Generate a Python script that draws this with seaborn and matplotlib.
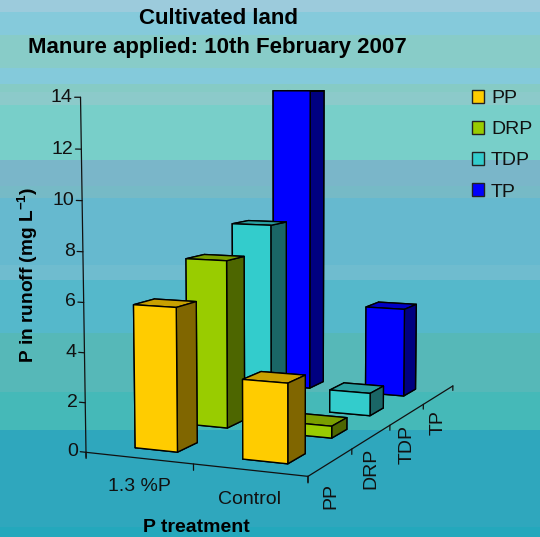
import numpy as np
import matplotlib
matplotlib.use("Agg")
import matplotlib.pyplot as plt
from matplotlib.patches import Patch
from mpl_toolkits.mplot3d import proj3d
import seaborn as sns

# dados
treatments = ["1.3 %P", "Control"]
series = ["PP", "DRP", "TDP", "TP"]
pp = [5.8, 3.15]
drp = [7.15, 0.5]
tdp = [8.25, 1.0]
tp = [14.2, 4.1]
z_ticks = [0, 2, 4, 6, 8, 10, 12, 14]

# cor da frente, topo e lateral de cada serie
front = ["#FFCC00", "#99CC00", "#33CCCC", "#0000FF"]
top = ["#C9A000", "#7A9F00", "#2A9FA0", "#0000C4"]
side = ["#806600", "#4D6600", "#1A6666", "#000080"]

# faixas do fundo (ate y em px, cor)
band_ends = [12, 35, 68, 84, 92, 105, 160, 186, 198, 265, 280, 333, 392, 430, 527, 537]
band_colors = ["#9CCBDC", "#85CADB", "#88CCC8", "#84CADB", "#86CBC5", "#8CCACA", "#78CFC9", "#7AB6C9",
               "#76BAC6", "#66B9CF", "#6FBCCF", "#55B8CB", "#56B8B8", "#45B9B8", "#2FA7BD", "#24A8BC"]

sns.set_theme(style="white")
plt.rcParams["font.family"] = ["Liberation Sans", "DejaVu Sans"]
plt.rcParams["mathtext.fontset"] = "custom"
plt.rcParams["mathtext.rm"] = "Liberation Sans"
plt.rcParams["mathtext.bf"] = "Liberation Sans:bold"

W, H = 540, 537
fig = plt.figure(figsize=(W / 100, H / 100), dpi=100)

# fundo em faixas
bg = fig.add_axes([0, 0, 1, 1], zorder=0)
prev = 0
for end, c in zip(band_ends, band_colors):
    bg.axhspan(prev, end, color=c, lw=0)
    prev = end
bg.set_xlim(0, W)
bg.set_ylim(H, 0)
bg.axis("off")

# grafico 3D
ax = fig.add_axes([0.046, 0.033, 0.948, 0.948], projection="3d", zorder=1, computed_zorder=False)
ax.set_facecolor("none")
ax.set_proj_type("persp", focal_length=0.55)
ax.view_init(elev=6.5, azim=-67)
ax.set_box_aspect((235, 458, 346), zoom=1.1)
ax.set_xlim(0, 2, view_margin=0)
ax.set_ylim(0, 4, view_margin=0)
ax.set_zlim(0, 14, view_margin=0)
ax.set_axis_off()


def label3d(x, y, z, s, **kw):
    # texto em 2D na posicao projetada
    px, py, _ = proj3d.proj_transform(x, y, z, ax.get_proj())
    ax.text2D(px, py, s, transform=ax.transData, color="#111111", **kw)


line = dict(color="#111111", lw=0.9, zorder=1)
ax.plot([0, 2], [0, 0], [0, 0], **line)
ax.plot([2, 2], [0, 4], [0, 0], **line)
ax.plot([0, 0], [0, 0], [-0.2, 14], **line)

for v in z_ticks:
    ax.plot([-0.055, 0], [0, 0], [v, v], **line)
    label3d(-0.075, 0, v, str(v), ha="right", va="center", fontsize=14)
for i in range(3):
    ax.plot([i, i], [0, 0], [0, -0.25], **line)
for i in range(5):
    ax.plot([2, 2], [i, i], [0, -0.22], **line)
for i, name in enumerate(treatments):
    label3d(i + 0.5, 0, -1.15, name, ha="center", va="center", fontsize=14)
for i, name in enumerate(series):
    label3d(2.0, i + 0.5, -1.35, name, ha="center", va="center", rotation=90, fontsize=14)

# barras de tras para frente
values = [pp, drp, tdp, tp]
order = 2
for s in [3, 2, 1, 0]:
    for t in [0, 1]:
        cols = [top[s], top[s], front[s], front[s], side[s], side[s]]
        ax.bar3d(t + 0.3, s + 0.31, 0, 0.4, 0.38, values[s][t], color=cols, shade=False,
                 edgecolor="black", linewidth=1, zorder=order)
        order += 1

# textos
fig.text(218 / W, 1 - 18 / H, "Cultivated land", ha="center", va="center",
         fontsize=16, fontweight="bold", color="black")
fig.text(217 / W, 1 - 47 / H, "Manure applied: 10th February 2007", ha="center", va="center",
         fontsize=16, fontweight="bold", color="black")
fig.text(28 / W, 1 - 275 / H, r"P in runoff (mg L$\mathbf{^{-1}}$)", rotation=90, ha="center", va="center",
         fontsize=13.8, fontweight="bold", color="black")
fig.text(196 / W, 1 - 527 / H, "P treatment", ha="center", va="center",
         fontsize=14, fontweight="bold", color="black")

handles = [Patch(facecolor=c, edgecolor="#222222", label=n) for c, n in zip(sns.color_palette(front), series)]
fig.legend(handles=handles, loc="upper left", bbox_to_anchor=(472 / W, 1 - 90 / H), frameon=False,
           fontsize=14, handlelength=0.62, handleheight=0.62, handletextpad=0.36, labelspacing=0.72,
           borderpad=0, borderaxespad=0, labelcolor="#111111")

fig.savefig("out.png", dpi=100)
